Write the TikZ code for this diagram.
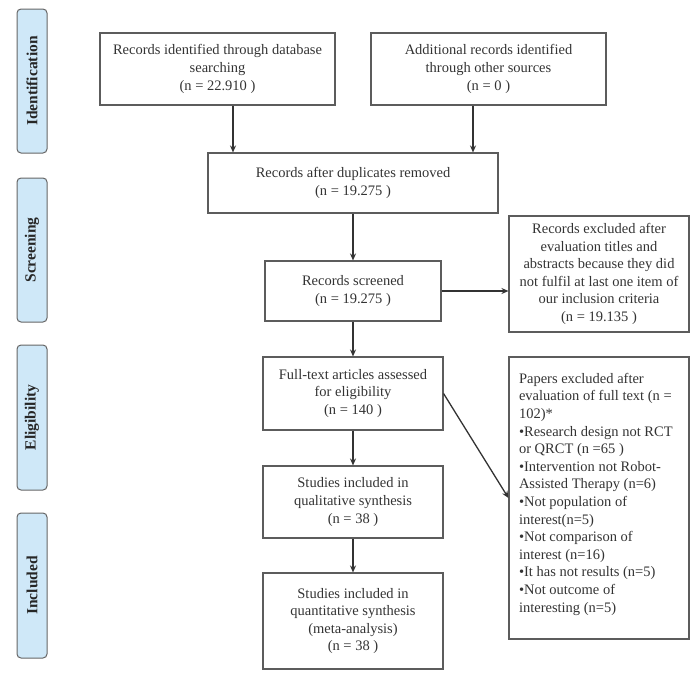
\documentclass[tikz,border=0pt]{standalone}
\usepackage{fontspec}
\setmainfont{Liberation Serif}
\usetikzlibrary{arrows.meta,calc}
\definecolor{boxgray}{HTML}{5C5C5C}
\definecolor{txt}{HTML}{333333}
\definecolor{labfill}{HTML}{CFE8F8}
\definecolor{labborder}{HTML}{666666}
\definecolor{arrcol}{HTML}{333333}
\begin{document}
\begin{tikzpicture}[x=1pt,y=-1pt,
  box/.style={draw=boxgray, line width=1.1pt, rectangle, inner sep=0pt,
    align=center, text=txt, font=\fontsize{14.5}{17.6}\selectfont},
  lab/.style={draw=labborder, fill=labfill, rounded corners=4pt, line width=1pt,
    rectangle, inner sep=0pt, rotate=90, minimum height=30, text=black!85,
    font=\fontsize{15.5}{18}\selectfont\bfseries},
  arr/.style={draw=arrcol, line width=1.3pt, -{Stealth[length=7pt,width=6pt]}}]
\useasboundingbox (0,0) rectangle (695,675);

% phase labels
\node[lab, minimum width=144] (lid) at (32,81) {Identification};
\node[lab, minimum width=144] (lsc) at (32,250) {Screening};
\node[lab, minimum width=145] (lel) at (32,417.5) {Eligibility};
\node[lab, minimum width=145] (lin) at (32,585.5) {Included};

% boxes
\node[box, minimum width=235, minimum height=72] (b1) at (217.5,69)
  {Records identified through database\\searching\\(n = 22.910 )};
\node[box, minimum width=235, minimum height=72] (b2) at (488.5,69)
  {Additional records identified\\through other sources\\(n = 0 )};
\node[box, minimum width=290, minimum height=60] (b3) at (353,183)
  {Records after duplicates removed\\(n = 19.275 )};
\node[box, minimum width=176, minimum height=60] (b4) at (353,291)
  {Records screened\\(n = 19.275 )};
\node[box, minimum width=180, minimum height=116] (b5) at (599,274)
  {Records excluded after\\evaluation titles and\\abstracts because they did\\not fulfil at last one item of\\our inclusion criteria\\(n = 19.135 )};
\node[box, minimum width=180, minimum height=73] (b6) at (353,393.5)
  {Full-text articles assessed\\for eligibility\\(n = 140 )};
\node[box, minimum width=180, minimum height=72] (b7) at (353,502)
  {Studies included in\\qualitative synthesis\\(n = 38 )};
\node[box, minimum width=180, minimum height=96] (b8) at (353,621)
  {Studies included in\\quantitative synthesis\\(meta-analysis)\\(n = 38 )};
\node[box, minimum width=180, minimum height=282] (b9) at (599,498) {};
\node[box, draw=none, align=left, anchor=north west] (b9t) at ($(b9.north west)+(10,16)$)
  {Papers excluded after\\evaluation of full text (n =\\102)*\\•Research design not RCT\\or QRCT (n =65 )\\•Intervention not Robot-\\Assisted Therapy (n=6)\\•Not population of\\interest(n=5)\\•Not comparison of\\interest (n=16)\\•It has not results (n=5)\\•Not outcome of\\interesting (n=5)};

% connectors
\draw[arr] ([xshift=15.5pt]b1.south) -- ([xshift=15.5pt]b1.south |- b3.north);
\draw[arr] ([xshift=-15.5pt]b2.south) -- ([xshift=-15.5pt]b2.south |- b3.north);
\draw[arr] (b3) -- (b4);
\draw[arr] (b4.east) -- (b4.east -| b5.west);
\draw[arr] (b4) -- (b6);
\draw[arr] (b6) -- (b7);
\draw[arr] (b7) -- (b8);
\draw[arr] (b6.east) -- (b9.west);
\end{tikzpicture}
\end{document}
